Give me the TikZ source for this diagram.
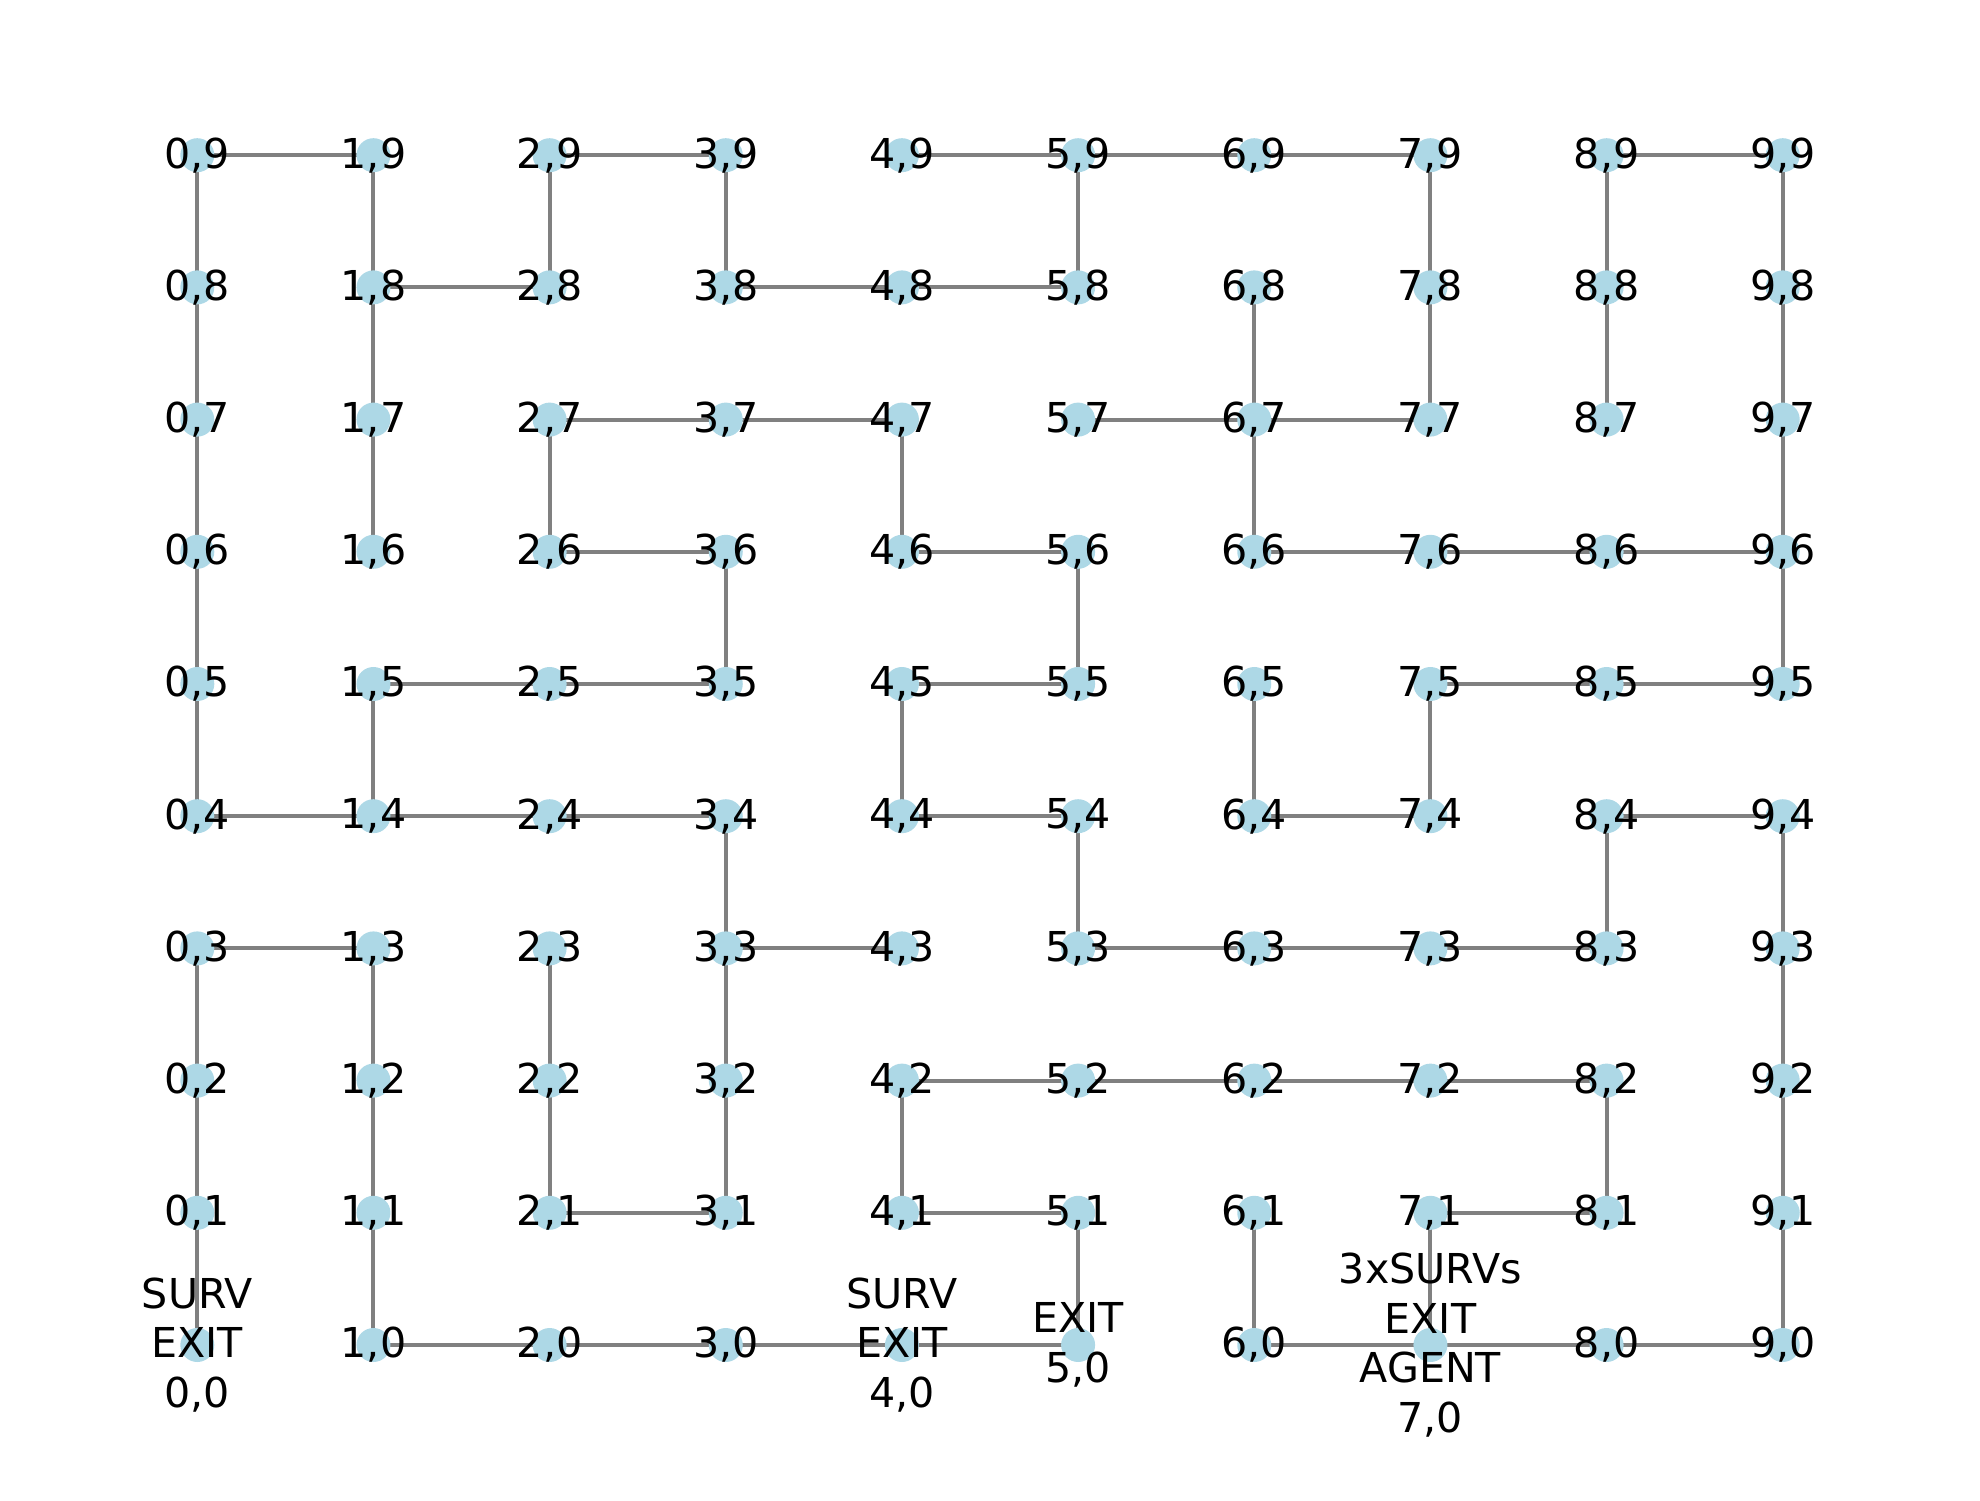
\documentclass[tikz,border=0pt]{standalone}
\usepackage{fontspec}
\setmainfont{DejaVu Sans}
\usepackage{tikz}
\usetikzlibrary{backgrounds}
\definecolor{cellcolor}{RGB}{173,216,230}
\definecolor{pathcolor}{RGB}{128,128,128}

\begin{document}
\begin{tikzpicture}[x=1.7616cm, y=1.322cm,
    cell/.style={circle, fill=cellcolor, minimum size=0.34cm, inner sep=0pt},
    celltext/.style={align=center, inner sep=0pt, font=\fontsize{11.72}{14.07}\selectfont},
    corridor/.style={draw=pathcolor, line width=1.15pt}]
    \useasboundingbox (-1.973cm,-1.55cm) rectangle (17.827cm,13.45cm);
    % cells of the maze
    \foreach \i in {0,...,9}
        \foreach \j in {0,...,9}
            \node[cell] (c\i-\j) at (\i,\j) {};
    \begin{pgfonlayer}{background}
        % corridors along the rows
        \foreach \i/\j in {0/9,2/9,4/9,5/9,6/9,8/9, 1/8,3/8,4/8, 2/7,3/7,5/7,6/7,
                           2/6,4/6,6/6,7/6,8/6, 1/5,2/5,4/5,7/5,8/5,
                           0/4,1/4,2/4,4/4,6/4,8/4, 0/3,3/3,5/3,6/3,7/3,
                           4/2,5/2,6/2,7/2, 2/1,4/1,7/1, 1/0,2/0,3/0,4/0,6/0,7/0,8/0}{
            \pgfmathtruncatemacro{\k}{\i+1}
            \draw[corridor] (c\i-\j.center) -- (c\k-\j.center);
        }
        % corridors along the columns
        \foreach \i/\j in {0/0,0/1,0/2,0/4,0/5,0/6,0/7,0/8, 1/0,1/1,1/2,1/4,1/6,1/7,1/8,
                           2/1,2/2,2/6,2/8, 3/1,3/2,3/3,3/5,3/8, 4/1,4/4,4/6,
                           5/0,5/3,5/5,5/8, 6/0,6/4,6/6,6/7, 7/0,7/4,7/7,7/8,
                           8/1,8/3,8/7,8/8, 9/0,9/1,9/2,9/3,9/5,9/6,9/7,9/8}{
            \pgfmathtruncatemacro{\k}{\j+1}
            \draw[corridor] (c\i-\j.center) -- (c\i-\k.center);
        }
    \end{pgfonlayer}
    % coordinates of the cells
    \foreach \i in {0,...,9}
        \foreach \j in {1,...,9}
            \node[celltext] at (c\i-\j) {\i,\j};
    \foreach \i in {1,2,3,6,8,9}
        \node[celltext] at (c\i-0) {\i,0};
    % exits, survivors and agent
    \node[celltext] at (c0-0) {SURV\\EXIT\\0,0};
    \node[celltext] at (c4-0) {SURV\\EXIT\\4,0};
    \node[celltext] at (c5-0) {EXIT\\5,0};
    \node[celltext] at (c7-0) {3xSURVs\\EXIT\\AGENT\\7,0};
\end{tikzpicture}
\end{document}
